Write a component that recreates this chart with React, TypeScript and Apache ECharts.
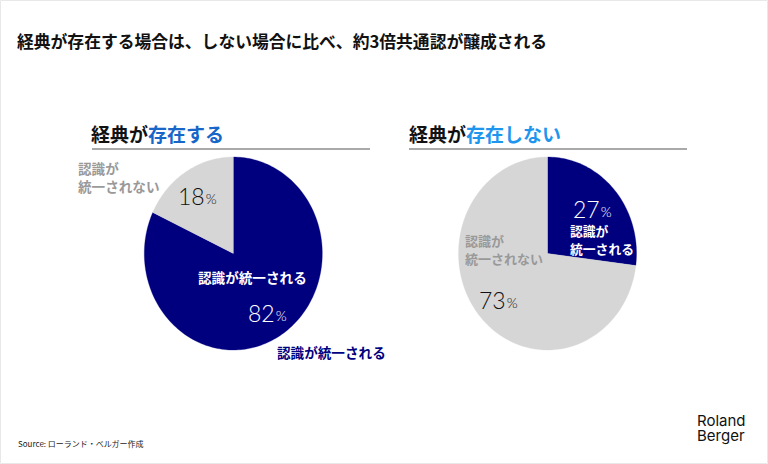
import React, { useEffect, useRef } from "react";
import * as echarts from "echarts";

// Share of respondents, clockwise from 12 o'clock
const segments = ["認識が統一される", "認識が統一されない"];
const withScripture = [82, 18];
const withoutScripture = [27, 73];

const titleText = "経典が存在する場合は、しない場合に比べ、約3倍共通認が醸成される";
const sourceText = "Source: ローランド・ベルガー作成";

const NAVY = "#00007f";
const LIGHT = "#d6d6d6";
const GRAY_TEXT = "#999999";
const JP = "'Noto Sans CJK JP', 'Noto Sans', sans-serif";
const NUM = "Lato, 'Noto Sans', sans-serif";

// Slightly tall elliptical pies
const RX = 89;
const RY = 96.5;
const CY = 253.5;
const LEFT_CX = 233.3;
const RIGHT_CX = 547.5;

function ellipsePie(values: number[], cx: number) {
  const total = values.reduce((a, b) => a + b, 0);
  return {
    type: "custom",
    coordinateSystem: "none",
    silent: true,
    z: 1,
    data: values,
    renderItem: (params: any, api: any) => {
      const i = params.dataIndex;
      const before = values.slice(0, i).reduce((a, b) => a + b, 0);
      const v = api.value(0);
      const a0 = (before / total) * Math.PI * 2;
      const a1 = ((before + v) / total) * Math.PI * 2;
      const n = Math.max(2, Math.ceil(((a1 - a0) / (Math.PI * 2)) * 240));
      const pts: number[][] = [[cx, CY]];
      for (let k = 0; k <= n; k++) {
        const t = a0 + ((a1 - a0) * k) / n;
        pts.push([cx + RX * Math.sin(t), CY - RY * Math.cos(t)]);
      }
      return {
        type: "polygon",
        shape: { points: pts },
        style: { fill: i === 0 ? NAVY : LIGHT, stroke: i === 0 ? NAVY : LIGHT, lineWidth: 0.3 },
      };
    },
  };
}

function pct(x: number, y: number, value: number, color: string) {
  return {
    type: "text",
    x,
    y,
    z: 100,
    style: {
      text: `{n|${value}}{p|%}`,
      verticalAlign: "middle",
      rich: {
        n: { fontSize: 23, fontFamily: NUM, fontWeight: 300, fill: color },
        p: { fontSize: 14, fontFamily: NUM, fontWeight: 300, fill: color, padding: [5, 0, 0, 1] },
      },
    },
  };
}

function label(x: number, y: number, text: string, color: string, size = 13.6) {
  return {
    type: "text",
    x,
    y,
    z: 100,
    style: {
      text,
      fill: color,
      fontSize: size,
      fontWeight: "bold",
      fontFamily: JP,
      lineHeight: 18,
      verticalAlign: "middle",
    },
  };
}

function heading(x: number, y: number, lead: string, accent: string, accentColor: string) {
  return {
    type: "text",
    x,
    y,
    z: 100,
    style: {
      text: `{a|${lead}}{b|${accent}}`,
      verticalAlign: "middle",
      rich: {
        a: { fontSize: 19, fontWeight: "bold", fontFamily: JP, fill: "#111111" },
        b: { fontSize: 19, fontWeight: "bold", fontFamily: JP, fill: accentColor },
      },
    },
  };
}

export default function App() {
  const ref = useRef<HTMLDivElement>(null);

  useEffect(() => {
    if (!ref.current) return;
    const chart = echarts.init(ref.current, undefined, { renderer: "svg" });
    chart.setOption({
      animation: false,
      backgroundColor: "#ffffff",
      series: [ellipsePie(withScripture, LEFT_CX), ellipsePie(withoutScripture, RIGHT_CX)],
      graphic: {
        elements: [
          {
            type: "rect",
            z: 100,
            shape: { x: 0.5, y: 0.5, width: 767, height: 463 },
            style: { fill: "none", stroke: "#e8e8e8", lineWidth: 1 },
          },
          {
            type: "text",
            x: 17,
            y: 41,
            z: 100,
            style: {
              text: titleText,
              fill: "#111111",
              fontSize: 16.8,
              fontWeight: "bold",
              fontFamily: JP,
              verticalAlign: "middle",
            },
          },
          heading(91, 133, "経典が", "存在する", "#1766c8"),
          heading(409, 133, "経典が", "存在しない", "#1e96ee"),
          {
            type: "line",
            z: 100,
            shape: { x1: 92, y1: 149, x2: 370, y2: 149 },
            style: { stroke: "#8c8c8c", lineWidth: 1.3 },
          },
          {
            type: "line",
            z: 100,
            shape: { x1: 409, y1: 149, x2: 687, y2: 149 },
            style: { stroke: "#8c8c8c", lineWidth: 1.3 },
          },
          // Left pie labels
          label(78, 177, "認識が\n統一されない", GRAY_TEXT),
          pct(178, 196, withScripture[1], "#111111"),
          label(198, 277, segments[0], "#ffffff"),
          pct(248, 313, withScripture[0], "#ffffff"),
          label(277, 352, segments[0], NAVY),
          // Right pie labels
          pct(573, 209, withoutScripture[0], "#ffffff"),
          label(570, 239, "認識が\n統一される", "#ffffff", 12.8),
          label(465, 249, "認識が\n統一されない", GRAY_TEXT, 13),
          pct(479, 300, withoutScripture[1], "#111111"),
          // Footer
          {
            type: "text",
            x: 18,
            y: 443,
            z: 100,
            style: {
              text: sourceText,
              fill: "#222222",
              fontSize: 8,
              fontFamily: JP,
              verticalAlign: "middle",
            },
          },
          {
            type: "text",
            x: 697,
            y: 428,
            z: 100,
            style: {
              text: "Roland\nBerger",
              fill: "#111111",
              fontSize: 15,
              fontWeight: "normal",
              fontFamily: "Inter, Roboto, sans-serif",
              lineHeight: 15,
              verticalAlign: "middle",
            },
          },
        ],
      },
    });
    return () => chart.dispose();
  }, []);

  return (
    <div
      ref={ref}
      style={{ position: "fixed", left: 0, top: 0, width: 768, height: 464 }}
    />
  );
}
